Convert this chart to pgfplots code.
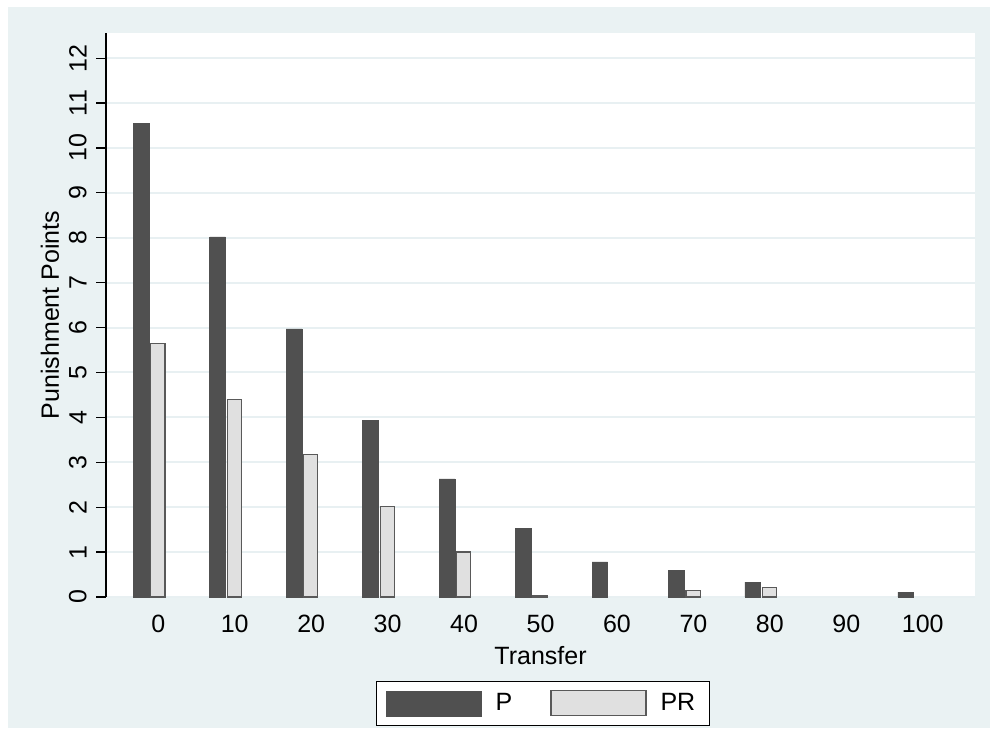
\documentclass[border=0pt]{standalone}
\usepackage{fontspec}
\setmainfont{Liberation Sans}
\usepackage{pgfplots}
\pgfplotsset{compat=1.18}

\definecolor{bgc}{HTML}{EAF2F3}
\definecolor{gridc}{HTML}{E8F0F2}
\definecolor{pdark}{HTML}{505050}
\definecolor{plight}{HTML}{E0E0E0}

\newcommand{\chartfont}{\fontsize{12.5}{15}\selectfont}

\pgfplotsset{
  box legend/.style={
    legend image code/.code={\draw[##1] (0pt,-6.25pt) rectangle (47.5pt,6.25pt);}
  }
}

% transfer, punishment points
\pgfplotstableread{
x   y
0   10.55
10  8.02
20  5.97
30  3.94
40  2.63
50  1.52
60  0.78
70  0.59
80  0.33
100 0.11
}\pdata

\pgfplotstableread{
x   y
0   5.65
10  4.40
20  3.18
30  2.01
40  1.00
50  0.04
70  0.14
80  0.22
}\prdata

\begin{document}
\begin{tikzpicture}
\fill[white] (0,0) rectangle (495pt,364pt);
\fill[bgc] (4pt,0) rectangle (495pt,360.5pt);
\begin{axis}[
  at={(53pt,65.5pt)}, anchor=south west,
  scale only axis,
  width=434.5pt, height=282pt,
  xmin=-6.84, xmax=106.83,
  ymin=0, ymax=12.56,
  axis background/.style={fill=white},
  axis x line*=bottom,
  axis y line*=left,
  x axis line style={draw=none},
  y axis line style={black, line width=0.6pt},
  xtick={0,10,...,100},
  ytick={0,1,...,12},
  xtick style={draw=none},
  ytick style={black, line width=0.6pt},
  tick align=outside,
  major tick length=5pt,
  ymajorgrids,
  grid style={gridc, line width=1pt},
  /pgf/number format/assume math mode=true,
  tick label style={font=\chartfont},
  xticklabel style={inner sep=0pt, anchor=north, yshift=-4pt},
  yticklabel style={rotate=90, anchor=south, inner sep=0pt, yshift=4.5pt},
  xlabel={Transfer},
  ylabel={Punishment Points},
  every axis x label/.style={at={(axis description cs:0.5,-0.104)}, anchor=center, font=\chartfont},
  every axis y label/.style={at={(axis description cs:-0.0644,0.5)}, rotate=90, anchor=center, font=\chartfont},
  legend columns=2,
  legend style={at={(0.5025,-0.1885)}, anchor=center, draw=black, fill=white,
    font=\chartfont, inner xsep=5pt, inner ysep=4pt,
    /tikz/every odd column/.append style={column sep=5pt},
    /tikz/every even column/.append style={column sep=17pt}},
]
\addplot[ybar, bar width=2.05, bar shift=-2.24, fill=pdark, draw=pdark, line width=0.3pt, box legend]
  table[x=x, y=y] {\pdata};
\addlegendentry{P}
\addplot[ybar, bar width=1.85, bar shift=-0.05, fill=plight, draw=black!65, line width=0.6pt, box legend]
  table[x=x, y=y] {\prdata};
\addlegendentry{PR}
\end{axis}
\end{tikzpicture}
\end{document}
